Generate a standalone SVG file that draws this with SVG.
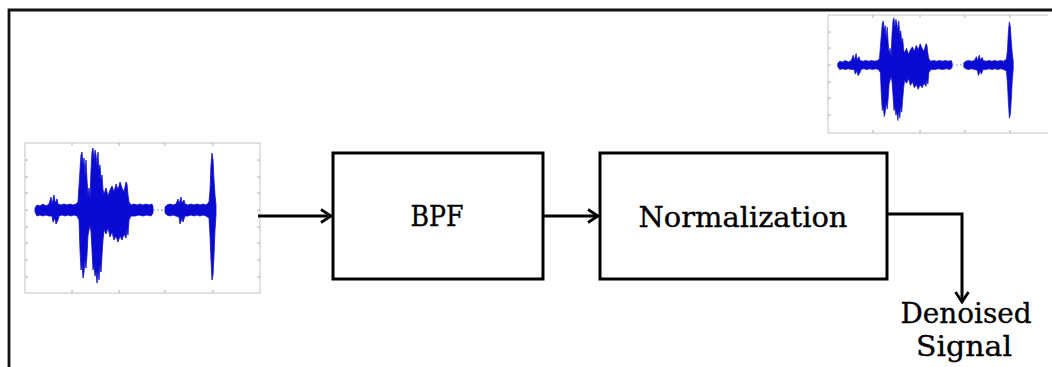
<svg xmlns="http://www.w3.org/2000/svg" width="1052" height="367" viewBox="0 0 1052 367">
  <style>
    .frame { fill: none; stroke: #111111; stroke-width: 2.8; }
    .block { fill: #ffffff; stroke: #000000; stroke-width: 3; }
    .label { font-family: "DejaVu Serif", "Liberation Serif", serif; font-size: 28px; fill: #000000; stroke: #000000; stroke-width: 0.35; }
    .wire { fill: none; stroke: #000000; stroke-width: 3; }
    .axis { fill: none; stroke: #c4c4c4; stroke-width: 1; }
    .tick { stroke: #b0b0b0; stroke-width: 1; }
    .wave { fill: #0a0ad2; stroke: #1010c8; stroke-width: 0.8; stroke-linejoin: round; }
    .gap { stroke: #8a8ae0; stroke-width: 1; stroke-dasharray: 2 2; }
  </style>
  <defs>
    <marker id="arrow" viewBox="0 0 14 16" refX="12" refY="8" markerWidth="14" markerHeight="16" markerUnits="userSpaceOnUse" orient="auto">
      <path d="M2,1.5 L12,8 L2,14.5" fill="none" stroke="#000000" stroke-width="2.8"/>
    </marker>
    <!-- speech waveform, drawn around its own zero line (y = 0) -->
    <g id="waveform">
      <line class="gap" x1="128" y1="0" x2="140" y2="0"/>
      <polygon class="wave" points="10,-2 12,-5 15,-4 18,-6 21,-4 24,-6 26,-13 27,-6 29,-15 30,-7 32,-11 33,-6 36,-5 39,-6 42,-5 45,-6 48,-5 51,-6 53,-8 55,-40 56,-55 57,-58 58,-45 59,-52 60,-35 61,-50 62,-30 63,-15 64,-22 65,-12 66,-40 67,-58 68,-62 69,-50 70,-60 71,-55 72,-45 73,-58 74,-40 75,-45 76,-30 77,-35 78,-20 79,-16 81,-22 83,-14 85,-20 87,-24 89,-18 91,-26 93,-20 95,-28 97,-22 99,-18 101,-28 102,-26 103,-15 104,-8 106,-5 109,-6 112,-5 115,-6 118,-5 121,-6 124,-5 127,-6 128,-3 128,3 126,6 122,5 118,6 114,5 110,6 106,6 104,10 103,25 102,20 101,28 99,24 97,30 95,26 93,32 91,26 89,30 87,22 85,27 83,18 81,24 79,20 78,30 77,45 76,62 75,55 74,70 73,60 72,73 71,62 70,66 69,55 68,60 67,40 66,22 65,15 64,20 63,25 62,45 61,58 60,50 59,62 58,68 57,55 56,60 55,40 54,10 52,6 49,5 46,6 43,5 40,6 37,5 34,6 33,10 31,14 30,8 28,12 27,6 24,6 21,5 18,6 15,5 12,6 10,2"/>
      <polygon class="wave" points="140,-3 142,-5 145,-6 148,-5 151,-6 153,-11 154,-6 156,-13 157,-7 159,-10 160,-6 163,-5 166,-6 169,-5 172,-6 175,-5 178,-6 181,-5 184,-8 185,-20 186,-45 187,-57 188,-50 189,-30 190,-15 191,-5 191,5 190,20 189,45 188,65 187,70 186,50 185,25 184,8 181,6 178,5 175,6 172,5 169,6 166,5 163,6 160,6 158,12 157,8 155,14 154,7 151,6 148,5 145,6 142,5 140,3"/>
    </g>
  </defs>

  <!-- outer frame (top and left edges) -->
  <path class="frame" d="M9,367 L9,10 L1052,10"/>

  <!-- input signal plot -->
  <g id="input-plot">
    <rect class="axis" x="25" y="143" width="235" height="150"/>
    <path class="tick" d="M25,160h3M25,177h3M25,193h3M25,210h3M25,227h3M25,243h3M25,260h3M25,277h3 M260,160h-3M260,177h-3M260,193h-3M260,210h-3M260,227h-3M260,243h-3M260,260h-3M260,277h-3 M72,293v-3M119,293v-3M165,293v-3M213,293v-3 M72,143v3M119,143v3M165,143v3M213,143v3"/>
    <use href="#waveform" transform="translate(25,210)"/>
  </g>

  <!-- denoised signal plot -->
  <g id="output-plot">
    <path class="axis" d="M1048,15 L828,15 L828,133 L1048,133"/>
    <path class="tick" d="M828,32h3M828,48h3M828,65h3M828,82h3M828,98h3M828,115h3 M873,133v-3M920,133v-3M965,133v-3M1010,133v-3 M873,15v3M920,15v3M965,15v3M1010,15v3"/>
    <use href="#waveform" transform="translate(828,65) scale(0.97,0.76)"/>
  </g>

  <!-- processing blocks -->
  <g id="bpf">
    <rect class="block" x="333" y="153" width="210" height="126"/>
    <text class="label" x="437" y="226" text-anchor="middle" textLength="53" lengthAdjust="spacingAndGlyphs">BPF</text>
  </g>
  <g id="normalization">
    <rect class="block" x="600" y="153" width="287" height="126"/>
    <text class="label" x="743" y="227" text-anchor="middle" textLength="209" lengthAdjust="spacingAndGlyphs">Normalization</text>
  </g>
  <g id="denoised-signal">
    <text class="label" x="966" y="323" text-anchor="middle" textLength="131" lengthAdjust="spacingAndGlyphs">Denoised</text>
    <text class="label" x="964" y="356" text-anchor="middle" textLength="96" lengthAdjust="spacingAndGlyphs">Signal</text>
  </g>

  <!-- connectors -->
  <g id="connectors">
    <path class="wire" d="M258,216 L331,216" marker-end="url(#arrow)"/>
    <path class="wire" d="M543,216 L598,216" marker-end="url(#arrow)"/>
    <path class="wire" d="M887,214 L962,214 L962,302" marker-end="url(#arrow)"/>
  </g>
</svg>
